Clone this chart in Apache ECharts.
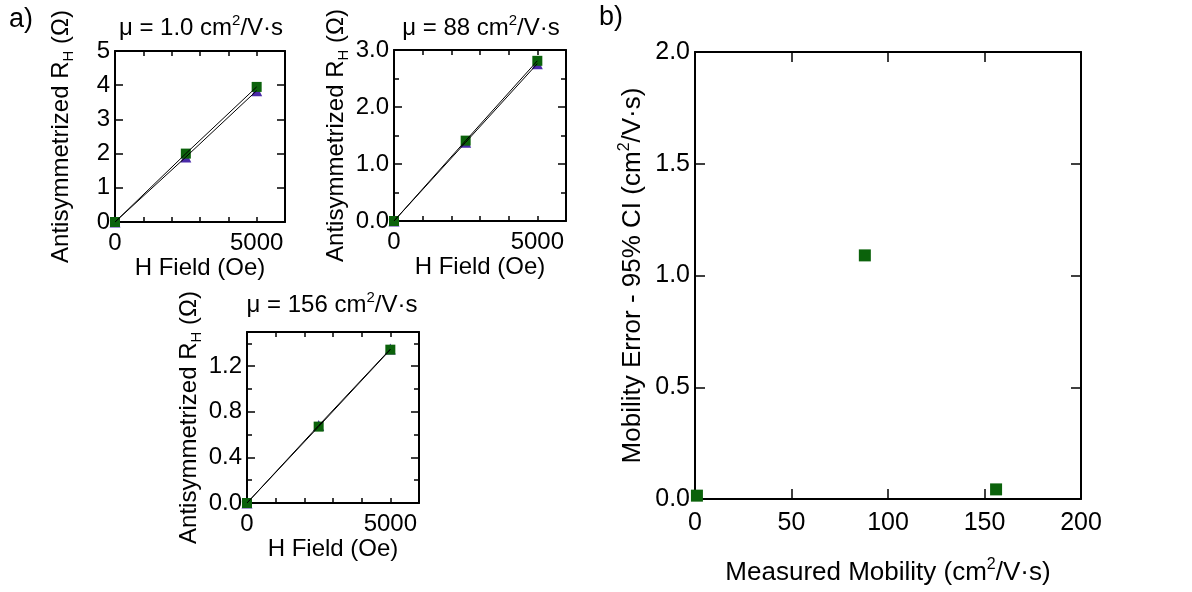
<!DOCTYPE html>
<html><head><meta charset="utf-8">
<script src="https://cdn.jsdelivr.net/npm/echarts@6/dist/echarts.min.js"></script>
<style>html,body{margin:0;padding:0;background:#fff}#c{width:1192px;height:592px}</style>
</head><body><div id="c"></div>
<script>
// ---- data ----
var fieldOe = [0, 2500, 5000];
var rh1Square = [0, 2.0, 3.95];
var rh1Tri = [0, 1.9, 3.84];
var rh2Square = [0, 1.41, 2.81];
var rh2Tri = [0, 1.38, 2.76];
var rh3Square = [0, 0.67, 1.345];
var rh3Tri = [0, 0.68, 1.35];
var mobility = [1.0, 88, 156];
var mobilityErr = [0.015, 1.09, 0.043];
var panelTitles = ['1.0', '88', '156'];
var xTickLabels = [0, 5000];

function pairs(xs, ys) { return xs.map(function (x, i) { return [x, ys[i]]; }); }

var FONT = 'Liberation Sans, Arial, sans-serif';
var GREEN = '#0b620b';
var PURPLE = '#4a2aa8';

var grids = [
  {left: 115, top: 51, width: 170, height: 171},
  {left: 394, top: 50, width: 172, height: 171},
  {left: 247, top: 332, width: 172, height: 171},
  {left: 695, top: 52, width: 386, height: 447}
];

var xAxes = [], yAxes = [], series = [];
var lineStyle = {color: '#000', width: 2};
var tickStyle = {color: '#000', width: 1.5};

function xPair(gi, cfg) {
  var base = {gridIndex: gi, type: 'value', min: cfg.min, max: cfg.max, interval: cfg.interval,
    splitLine: {show: false}, axisLine: {show: true, onZero: false, lineStyle: lineStyle},
    axisTick: {show: true, inside: true, length: cfg.tick, lineStyle: tickStyle}};
  var bottom = Object.assign({}, base, {position: 'bottom',
    axisLabel: {show: true, color: '#000', fontFamily: FONT, fontSize: cfg.fs, margin: 9, formatter: cfg.fmt},
    name: cfg.name, nameLocation: 'middle', nameGap: cfg.gap,
    nameTextStyle: {color: '#000', fontFamily: FONT, fontSize: cfg.nfs, rich: cfg.rich}});
  var top = Object.assign({}, base, {position: 'top', axisLabel: {show: false}});
  xAxes.push(bottom); xAxes.push(top);
  return [xAxes.length - 2, xAxes.length - 1];
}
function yAxis(gi, cfg, pos, labels, minorOnly) {
  var ax = {gridIndex: gi, type: 'value', min: cfg.min, max: cfg.max, interval: minorOnly ? cfg.minorInterval : cfg.interval,
    position: pos, splitLine: {show: false},
    axisLine: {show: !minorOnly, onZero: false, lineStyle: lineStyle},
    axisTick: {show: true, inside: true, length: minorOnly ? cfg.minorTick : cfg.tick, lineStyle: tickStyle},
    axisLabel: {show: labels, color: '#000', fontFamily: FONT, fontSize: cfg.fs, margin: 5,
      formatter: cfg.fmt, showMaxLabel: cfg.showMax !== false}};
  if (labels) {
    ax.name = cfg.name; ax.nameLocation = 'middle'; ax.nameGap = cfg.gap;
    ax.nameTextStyle = {color: '#000', fontFamily: FONT, fontSize: cfg.nfs, rich: cfg.rich};
  }
  yAxes.push(ax);
  return yAxes.length - 1;
}

var rhName = '{n|Antisymmetrized R}{s|H}{n| (Ω)}';
var rhRich = {n: {fontFamily: FONT, fontSize: 24, color: '#000', lineHeight: 30},
  s: {fontFamily: FONT, fontSize: 15, color: '#000', lineHeight: 12, verticalAlign: 'bottom'}};
var hName = 'H Field (Oe)';
function xfmt(v) { return xTickLabels.indexOf(v) >= 0 ? String(v) : ''; }
function f1(v) { return v.toFixed(1); }

var yCfgs = [
  {min: 0, max: 5, interval: 1, tick: 8, fs: 24, fmt: function (v) { return String(v); }, minorInterval: null},
  {min: 0, max: 3, interval: 1, tick: 8, fs: 24, fmt: f1, minorInterval: 0.5, minorTick: 5},
  {min: 0, max: 1.5, interval: 0.4, tick: 8, fs: 24, fmt: f1, minorInterval: 0.2, minorTick: 5, showMax: false}
];
var gaps = [39, 41, 39];
var sqData = [rh1Square, rh2Square, rh3Square];
var triData = [rh1Tri, rh2Tri, rh3Tri];

for (var g = 0; g < 3; g++) {
  var xi = xPair(g, {min: 0, max: 6000, interval: 1000, tick: 5, fs: 24, fmt: xfmt, name: hName, gap: 34, nfs: 24});
  var yc = Object.assign({name: rhName, gap: gaps[g], nfs: 24, rich: rhRich}, yCfgs[g]);
  var yl = yAxis(g, yc, 'left', true, false);
  yAxis(g, yc, 'right', false, false);
  if (yc.minorInterval) {
    yAxis(g, yc, 'left', false, true);
    yAxis(g, yc, 'right', false, true);
  }
  var tri = pairs(fieldOe, triData[g]);
  var sq = pairs(fieldOe, sqData[g]);
  series.push({type: 'scatter', xAxisIndex: xi[0], yAxisIndex: yl, data: tri, symbol: 'triangle', symbolSize: 11,
    itemStyle: {color: PURPLE, opacity: 1}, z: 2, silent: true});
  series.push({type: 'scatter', xAxisIndex: xi[0], yAxisIndex: yl, data: sq, symbol: 'rect', symbolSize: 10,
    itemStyle: {color: GREEN, opacity: 1}, z: 3, silent: true});
  series.push({type: 'line', xAxisIndex: xi[0], yAxisIndex: yl, data: tri, showSymbol: false,
    lineStyle: {color: '#000', width: 1}, z: 4, silent: true});
  series.push({type: 'line', xAxisIndex: xi[0], yAxisIndex: yl, data: sq, showSymbol: false,
    lineStyle: {color: '#000', width: 1}, z: 4, silent: true});
}

// panel b
var supRich = {n: {fontFamily: FONT, fontSize: 26, color: '#000', lineHeight: 32},
  sup: {fontFamily: FONT, fontSize: 16, color: '#000', lineHeight: 14, verticalAlign: 'top'}};
var xb = xPair(3, {min: 0, max: 200, interval: 50, tick: 10, fs: 25, fmt: function (v) { return String(v); },
  name: '{n|Measured Mobility (cm}{sup|2}{n|/V·s)}', gap: 58, nfs: 26, rich: supRich});
var ybCfg = {min: 0, max: 2, interval: 0.5, tick: 10, fs: 25, fmt: f1,
  name: '{n|Mobility Error - 95% CI (cm}{sup|2}{n|/V·s)}', gap: 46, nfs: 26, rich: supRich};
var yb = yAxis(3, ybCfg, 'left', true, false);
yAxis(3, ybCfg, 'right', false, false);
xAxes[xb[0]].axisLabel.margin = 12;
series.push({type: 'scatter', xAxisIndex: xb[0], yAxisIndex: yb, data: pairs(mobility, mobilityErr),
  symbol: 'rect', symbolSize: 12, itemStyle: {color: GREEN, opacity: 1}, silent: true});

var titleRich = {n: {fontFamily: FONT, fontSize: 24, color: '#000', lineHeight: 30},
  sup: {fontFamily: FONT, fontSize: 15, color: '#000', lineHeight: 13, verticalAlign: 'top'}};
var titlePos = [[201, 13], [481, 13], [332, 290]];
var graphics = titlePos.map(function (p, i) {
  return {type: 'text', x: p[0], y: p[1], style: {
    text: '{n|μ = ' + panelTitles[i] + ' cm}{sup|2}{n|/V·s}', rich: titleRich, align: 'center', verticalAlign: 'top'}};
});
graphics.push({type: 'text', x: 9, y: 6, style: {text: 'a)', fontFamily: FONT, fontSize: 27, fill: '#000'}});
graphics.push({type: 'text', x: 599, y: 4, style: {text: 'b)', fontFamily: FONT, fontSize: 27, fill: '#000'}});

var chart = echarts.init(document.getElementById('c'), null, {renderer: 'canvas'});
chart.setOption({
  animation: false,
  backgroundColor: '#fff',
  grid: grids,
  xAxis: xAxes,
  yAxis: yAxes,
  series: series,
  graphic: graphics
});
</script></body></html>
